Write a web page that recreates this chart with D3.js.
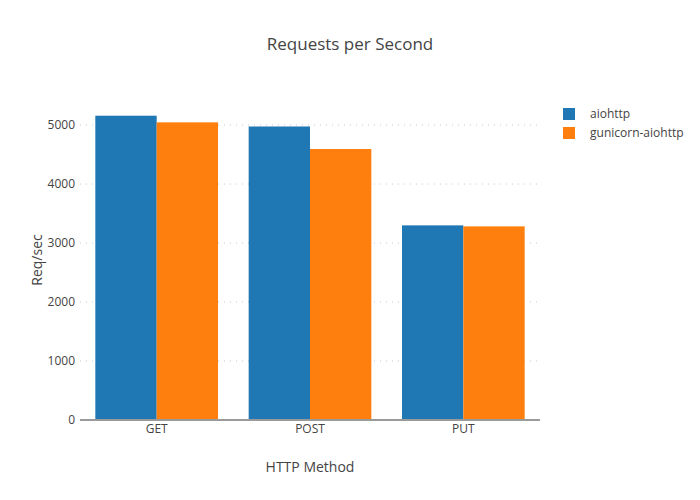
<!DOCTYPE html>
<html><head><meta charset="utf-8">
<script src="https://cdn.jsdelivr.net/npm/d3@7"></script>
<style>body{margin:0;background:#fff}svg text{font-family:"Open Sans",sans-serif}</style>
</head><body><svg id="c" width="700" height="500"></svg>
<script>
const categories = ["GET", "POST", "PUT"];
const seriesNames = ["aiohttp", "gunicorn-aiohttp"];
const aiohttp = [5158, 4975, 3299];
const gunicornAiohttp = [5045, 4593, 3282];
const yTicks = [0, 1000, 2000, 3000, 4000, 5000];
const colors = ["#1f77b4", "#ff7f0e"];

const series = [aiohttp, gunicornAiohttp];
const svg = d3.select("#c");
const m = {l: 80, r: 160, t: 100, b: 80};
const W = 700, H = 500;
const x = d3.scaleBand().domain(categories).range([m.l, W - m.r]).paddingInner(0.2).paddingOuter(0.1);
const x1 = d3.scaleBand().domain(seriesNames).range([0, x.bandwidth()]);
const y = d3.scaleLinear().domain([0, 5424]).range([H - m.b, m.t]);

// grid
svg.append("g").selectAll("line").data(yTicks.filter(d => d > 0)).join("line")
  .attr("x1", m.l).attr("x2", W - m.r)
  .attr("y1", d => y(d)).attr("y2", d => y(d))
  .attr("stroke", "#bccad8").attr("stroke-width", 1).attr("stroke-dasharray", "1,5");

// bars
seriesNames.forEach((s, i) => {
  svg.append("g").selectAll("rect").data(categories).join("rect")
    .attr("x", c => x(c) + x1(s))
    .attr("width", x1.bandwidth())
    .attr("y", (c, j) => y(series[i][j]))
    .attr("height", (c, j) => y(0) - y(series[i][j]))
    .attr("fill", colors[i]);
});

// x axis
const xa = svg.append("g").attr("transform", `translate(0,${y(0)})`)
  .call(d3.axisBottom(x).tickSize(0).tickPadding(4));
xa.select(".domain").attr("stroke", "#9a9a9a").attr("stroke-width", 2)
  .attr("d", `M${m.l},0H${W - m.r}`);
xa.selectAll("text").attr("font-size", 12).attr("fill", "#444");

// y axis
const ya = svg.append("g").attr("transform", `translate(${m.l},0)`)
  .call(d3.axisLeft(y).tickValues(yTicks).tickSize(0).tickPadding(5).tickFormat(d3.format("d")));
ya.select(".domain").remove();
ya.selectAll("text").attr("font-size", 12).attr("fill", "#444");

// titles
svg.append("text").attr("x", W / 2).attr("y", 50).attr("text-anchor", "middle")
  .attr("font-size", 17).attr("fill", "#444").text("Requests per Second");
svg.append("text").attr("x", (m.l + W - m.r) / 2).attr("y", 472).attr("text-anchor", "middle")
  .attr("font-size", 14).attr("fill", "#444").text("HTTP Method");
svg.append("text").attr("transform", `translate(42,${(m.t + H - m.b) / 2}) rotate(-90)`)
  .attr("text-anchor", "middle").attr("font-size", 14).attr("fill", "#444").text("Req/sec");

// legend
const lg = svg.append("g");
seriesNames.forEach((s, i) => {
  const yy = 114 + i * 19;
  lg.append("rect").attr("x", 563).attr("y", yy - 6).attr("width", 12).attr("height", 12).attr("fill", colors[i]);
  lg.append("text").attr("x", 590).attr("y", yy + 4).attr("font-size", 12).attr("fill", "#444").text(s);
});
</script></body></html>
